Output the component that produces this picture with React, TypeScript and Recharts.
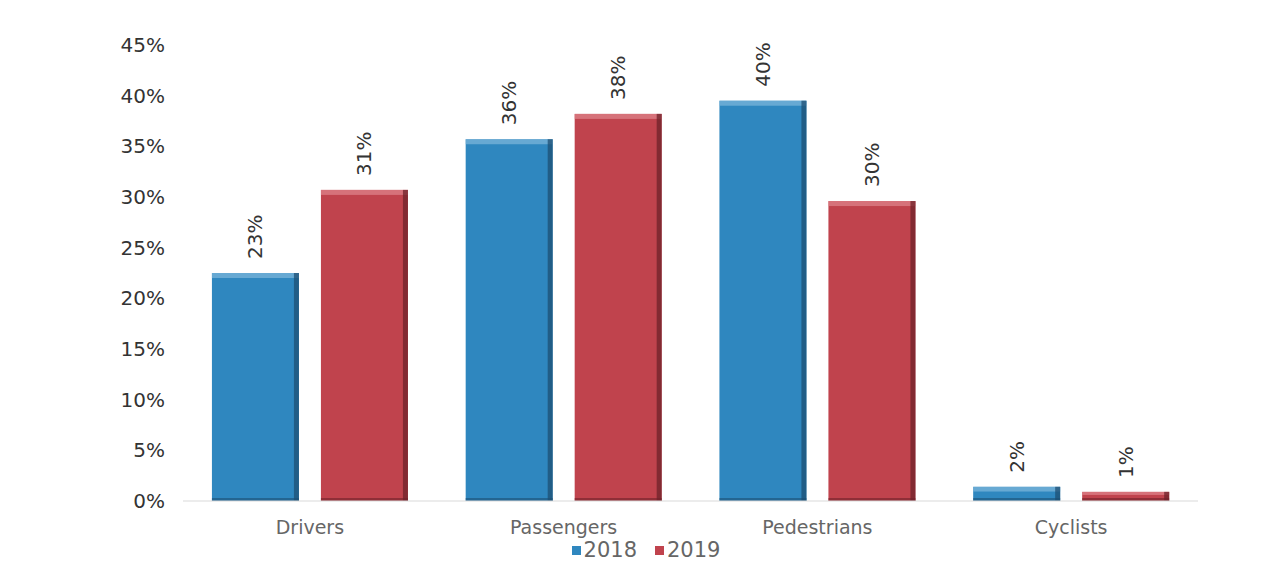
import { Bar, BarChart, LabelList, XAxis, YAxis } from "recharts";

const categories = ["Drivers", "Passengers", "Pedestrians", "Cyclists"];
const values2018 = [22.5, 35.7, 39.5, 1.4];
const values2019 = [30.7, 38.2, 29.6, 0.9];
const labels2018 = ["23%", "36%", "40%", "2%"];
const labels2019 = ["31%", "38%", "30%", "1%"];
const seriesNames = ["2018", "2019"];
const yTicks = [0, 5, 10, 15, 20, 25, 30, 35, 40, 45];

const BLUE = "#2f87bf";
const RED = "#c0434d";
const FONT = "Verdana, 'DejaVu Sans', sans-serif";

const data = categories.map((name, i) => ({
  name,
  y2018: values2018[i],
  y2019: values2019[i],
  l2018: labels2018[i],
  l2019: labels2019[i],
}));

function BevelBar(props: any) {
  const { x, y, width, height, fill, dark, light } = props;
  if (!height || height <= 0) return null;
  const e = Math.min(5, height / 3);
  return (
    <g>
      <rect x={x} y={y} width={width} height={height} fill={fill} />
      <rect x={x} y={y} width={width} height={e} fill={light} opacity={0.7} />
      <rect x={x + width - 5} y={y} width={5} height={height} fill={dark} opacity={0.75} />
      <rect x={x} y={y + height - 3} width={width} height={3} fill={dark} opacity={0.6} />
    </g>
  );
}

function RotLabel(props: any) {
  const { x, y, width, value } = props;
  const cx = x + width / 2;
  const ty = y - 14;
  return (
    <text
      x={cx}
      y={ty}
      transform={`rotate(-90 ${cx} ${ty})`}
      textAnchor="start"
      dominantBaseline="central"
      fontSize={20}
      fontFamily={FONT}
      fill="#333"
    >
      {value}
    </text>
  );
}

function ChartLegend() {
  const colors = [BLUE, RED];
  return (
    <div
      style={{
        position: "absolute",
        left: 0,
        top: 539,
        width: 1310,
        display: "flex",
        justifyContent: "center",
      }}
    >
      {seriesNames.map((s, i) => (
        <span key={s} style={{ display: "inline-flex", alignItems: "center", marginRight: 18 }}>
          <span style={{ width: 9, height: 9, background: colors[i], display: "inline-block", marginRight: 3 }} />
          <span style={{ fontSize: 21, color: "#666", fontFamily: FONT, lineHeight: "22px" }}>{s}</span>
        </span>
      ))}
    </div>
  );
}

export default function App() {
  return (
    <div style={{ position: "absolute", left: 0, top: 0, width: 1279, height: 580, background: "#fff" }}>
      <BarChart
        width={1279}
        height={580}
        data={data}
        margin={{ top: 45, right: 81, bottom: 0, left: 0 }}
        barCategoryGap="11.4%"
        barGap={22}
      >
        <XAxis
          dataKey="name"
          height={79}
          axisLine={{ stroke: "#d9d9d9" }}
          tickLine={false}
          tickSize={0}
          tickMargin={20}
          tick={{ fontSize: 19, fill: "#666", fontFamily: FONT }}
        />
        <YAxis
          width={183}
          domain={[0, 45]}
          ticks={yTicks}
          axisLine={false}
          tickLine={false}
          tickSize={8}
          tickMargin={10}
          tickFormatter={(v) => `${v}%`}
          tick={{ fontSize: 20, fill: "#333", fontFamily: FONT }}
        />
        <Bar
          dataKey="y2018"
          name={seriesNames[0]}
          fill={BLUE}
          isAnimationActive={false}
          shape={(p: any) => <BevelBar {...p} dark="#1d4f73" light="#7fb8dc" />}
        >
          <LabelList dataKey="l2018" content={RotLabel} />
        </Bar>
        <Bar
          dataKey="y2019"
          name={seriesNames[1]}
          fill={RED}
          isAnimationActive={false}
          shape={(p: any) => <BevelBar {...p} dark="#6e2229" light="#e0868d" />}
        >
          <LabelList dataKey="l2019" content={RotLabel} />
        </Bar>
      </BarChart>
      <ChartLegend />
    </div>
  );
}
